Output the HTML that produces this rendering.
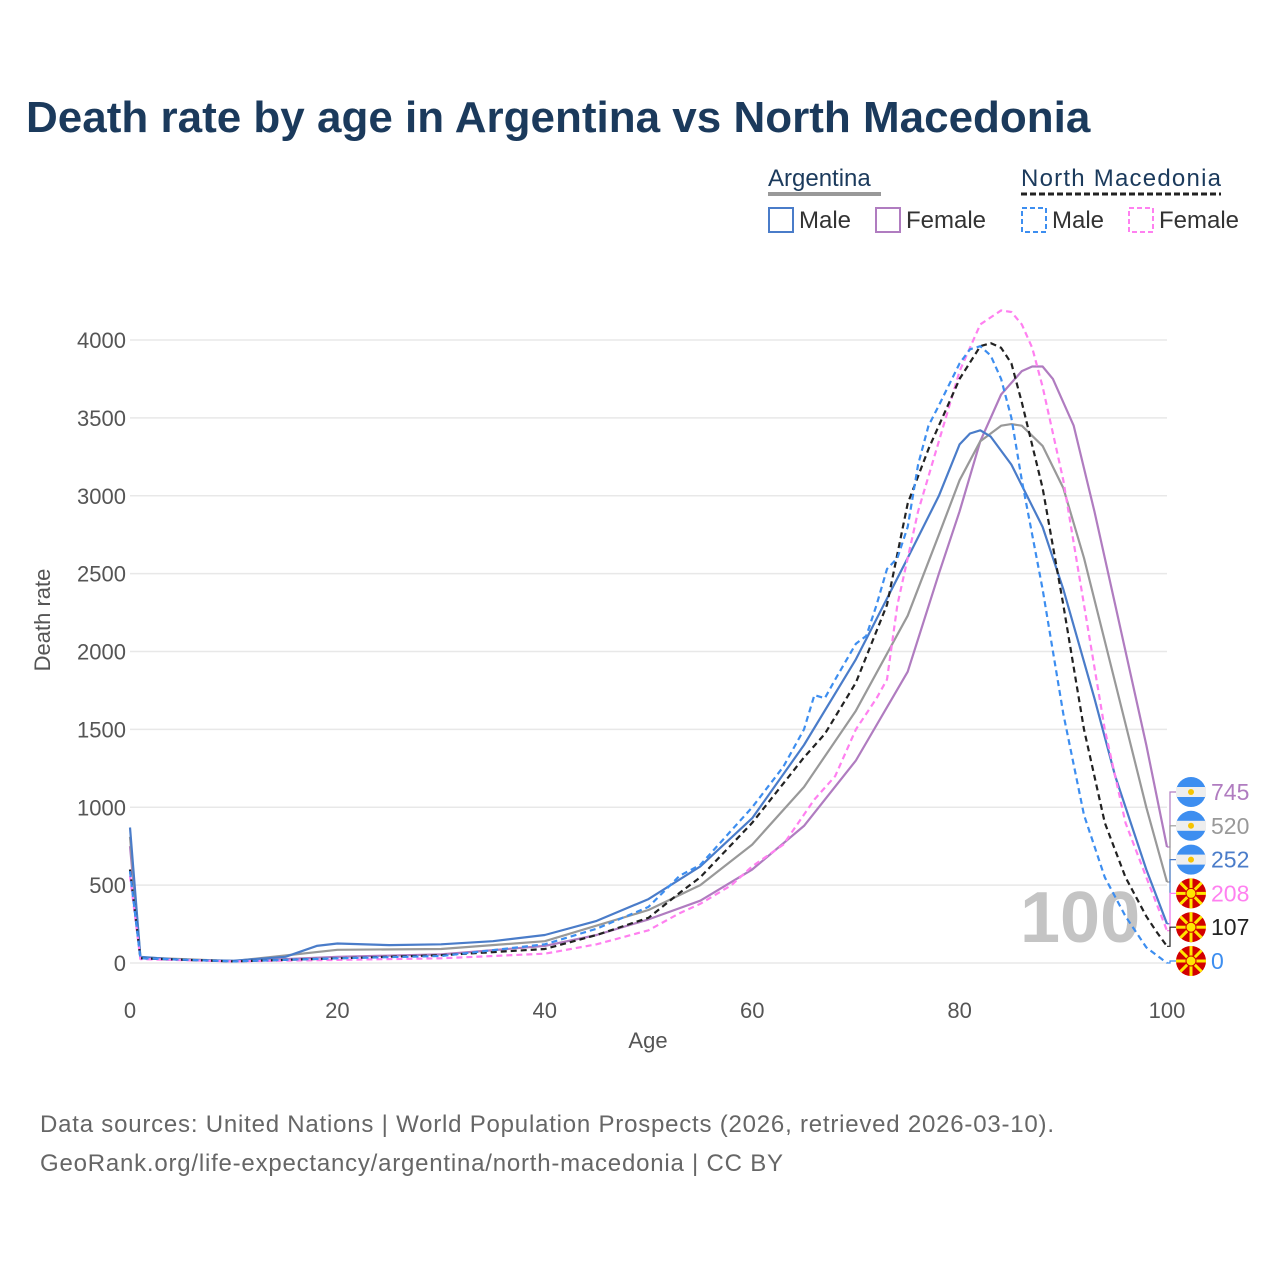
<!DOCTYPE html>
<html><head><meta charset="utf-8"><style>
body{margin:0;background:#fff;font-family:"Liberation Sans",sans-serif;}
#wrap{position:relative;width:1280px;height:1280px;overflow:hidden;}
</style></head><body>
<div id="wrap">
<svg id="chart" width="1280" height="1280">
<text x="26" y="132" font-size="44" font-weight="bold" fill="#1b3a5c">Death rate by age in Argentina vs North Macedonia</text>
<g>
<text x="768" y="186" font-size="24" fill="#1b3a5c">Argentina</text>
<line x1="768" y1="194" x2="881" y2="194" stroke="#999" stroke-width="4"/>
<text x="1021" y="186" font-size="24" fill="#1b3a5c" textLength="200">North Macedonia</text>
<line x1="1021" y1="194" x2="1221" y2="194" stroke="#222" stroke-width="3" stroke-dasharray="6,3"/>
<rect x="769" y="208" width="24" height="24" fill="none" stroke="#4a7cc9" stroke-width="2"/>
<text x="799" y="228" font-size="24" fill="#333">Male</text>
<rect x="876" y="208" width="24" height="24" fill="none" stroke="#b07cc0" stroke-width="2"/>
<text x="906" y="228" font-size="24" fill="#333">Female</text>
<rect x="1022" y="208" width="24" height="24" fill="none" stroke="#3d8ef0" stroke-width="2" stroke-dasharray="5,3"/>
<text x="1052" y="228" font-size="24" fill="#333">Male</text>
<rect x="1129" y="208" width="24" height="24" fill="none" stroke="#ff80f0" stroke-width="2" stroke-dasharray="5,3"/>
<text x="1159" y="228" font-size="24" fill="#333">Female</text>
</g>
<g id="grid"></g>
<text x="1020" y="942" font-size="72" font-weight="bold" fill="#c4c4c4">100</text>
<g id="series"></g>
<g id="endlabels"></g>
<text x="648" y="1048" font-size="22" fill="#555" text-anchor="middle">Age</text>
<text transform="translate(50,620) rotate(-90)" font-size="22" fill="#555" text-anchor="middle">Death rate</text>
<text x="40" y="1132" font-size="24" fill="#666" textLength="1014">Data sources: United Nations | World Population Prospects (2026, retrieved 2026-03-10).</text>
<text x="40" y="1171" font-size="24" fill="#666" textLength="743">GeoRank.org/life-expectancy/argentina/north-macedonia | CC BY</text>
</svg>
</div>
<script>
const xTicks=[0,20,40,60,80,100];
const yTicks=[0,500,1000,1500,2000,2500,3000,3500,4000];
const arMaleAges=[0,1,5,10,15,18,20,25,30,35,40,45,50,55,60,65,70,75,78,80,81,82,83,85,88,90,93,95,98,100];
const arMaleVals=[870,40,20,15,40,110,125,115,120,140,180,270,410,620,930,1400,1950,2600,3000,3330,3400,3420,3380,3200,2800,2400,1700,1200,600,252];
const arFemaleAges=[0,1,10,20,30,40,45,50,55,60,65,70,75,78,80,82,84,86,87,88,89,90,91,93,95,98,100];
const arFemaleVals=[750,30,10,40,55,110,180,280,400,600,880,1300,1870,2500,2900,3350,3650,3800,3830,3830,3750,3600,3450,2900,2300,1400,745];
const arAllAges=[0,1,10,20,30,40,50,55,60,65,70,75,78,80,82,84,85,86,88,90,92,95,98,100];
const arAllVals=[810,35,12,85,90,140,340,500,760,1130,1620,2230,2750,3100,3350,3450,3460,3450,3320,3050,2600,1800,1000,520];
const nmMaleAges=[0,1,10,20,30,40,45,50,53,55,60,63,65,66,67,68,70,71,72,73,74,75,76,77,78,80,81,82,83,84,85,86,88,90,92,94,96,98,100];
const nmMaleVals=[590,30,10,30,45,120,220,360,560,630,1000,1260,1500,1720,1700,1820,2050,2100,2300,2530,2600,2800,3200,3450,3580,3850,3940,3960,3900,3750,3500,3100,2400,1600,950,550,300,100,0];
const nmAllAges=[0,1,10,20,30,40,45,50,53,55,60,65,67,70,73,75,77,80,82,83,84,85,86,88,90,92,94,96,98,99,100];
const nmAllVals=[600,30,10,30,50,90,180,290,450,550,900,1320,1470,1800,2300,2950,3300,3750,3960,3980,3950,3850,3600,3050,2300,1500,900,550,300,200,107];
const nmFemaleAges=[0,1,10,20,30,40,45,50,53,55,58,60,63,66,68,70,72,73,74,76,78,80,82,84,85,86,87,88,90,92,94,96,98,100];
const nmFemaleVals=[560,25,10,20,30,60,120,210,320,380,500,620,760,1050,1200,1500,1700,1820,2300,2900,3350,3800,4100,4190,4180,4100,3950,3700,3100,2300,1500,900,550,208];
const endValues=[745,520,252,208,107,0];
const endColors=['#b07cc0','#999','#4a7cc9','#ff80f0','#222','#3d8ef0'];
const endFlags=['ar','ar','ar','mk','mk','mk'];

const NS='http://www.w3.org/2000/svg';
const X=a=>130+a*10.37;
const Y=v=>963-v*0.15575;
function mk(tag,attrs,parent){const e=document.createElementNS(NS,tag);for(const k in attrs)e.setAttribute(k,attrs[k]);parent.appendChild(e);return e;}
const grid=document.getElementById('grid');
yTicks.forEach(t=>{
  const l=mk('line',{x1:130,x2:1167,y1:Y(t),y2:Y(t),stroke:'#e8e8e8','stroke-width':1.5},grid);
  
  
  const tx=mk('text',{x:126,y:Y(t)+8,'font-size':22,fill:'#555','text-anchor':'end'},grid);
  tx.textContent=t;
  
  
});
xTicks.forEach(t=>{
  const tx=mk('text',{x:X(t),y:1018,'font-size':22,fill:'#555','text-anchor':'middle'},grid);
  tx.textContent=t;
  
  
});
const ser=document.getElementById('series');
function line(ages,vals,color,dash,name){
  const d=ages.map((a,i)=>(i?'L':'M')+X(a).toFixed(1)+','+Y(vals[i]).toFixed(1)).join(' ');
  const p=mk('path',{d:d,fill:'none',stroke:color,'stroke-width':2.2,'stroke-dasharray':dash,'stroke-linejoin':'round'},ser);
  
  
}
line(arFemaleAges,arFemaleVals,'#b07cc0','none','line-argentina-female');
line(arAllAges,arAllVals,'#999','none','line-argentina-total');
line(arMaleAges,arMaleVals,'#4a7cc9','none','line-argentina-male');
line(nmFemaleAges,nmFemaleVals,'#ff80f0','6,4','line-nm-female');
line(nmAllAges,nmAllVals,'#222','6,4','line-nm-total');
line(nmMaleAges,nmMaleVals,'#3d8ef0','6,4','line-nm-male');
const el=document.getElementById('endlabels');
endValues.forEach((v,i)=>{
  const ly=792+i*33.8;
  const g=mk('g',{},el);
  
  
  mk('path',{d:`M1167,${Y(v)} L1170,${Y(v)} L1170,${ly} L1176,${ly}`,fill:'none',stroke:endColors[i],'stroke-width':1.2},g);
  const cx=1191;
  if(endFlags[i]==='ar'){
    mk('circle',{cx:cx,cy:ly,r:15,fill:'#3d8ef0'},g);
    mk('rect',{x:cx-15,y:ly-5,width:30,height:10,fill:'#eee'},g);
    mk('circle',{cx:cx,cy:ly,r:3,fill:'#f6c400'},g);
  } else {
    mk('circle',{cx:cx,cy:ly,r:15,fill:'#d20000'},g);
    for(let k=0;k<8;k++){const a=k*Math.PI/4;mk('line',{x1:cx,y1:ly,x2:cx+15*Math.cos(a),y2:ly+15*Math.sin(a),stroke:'#ffe600','stroke-width':3},g);}
    mk('circle',{cx:cx,cy:ly,r:5,fill:'#ffe600',stroke:'#d20000','stroke-width':1},g);
  }
  const t=mk('text',{x:1211,y:ly+8,'font-size':23,fill:endColors[i]},g);
  t.textContent=v;
});
</script>
</body></html>
